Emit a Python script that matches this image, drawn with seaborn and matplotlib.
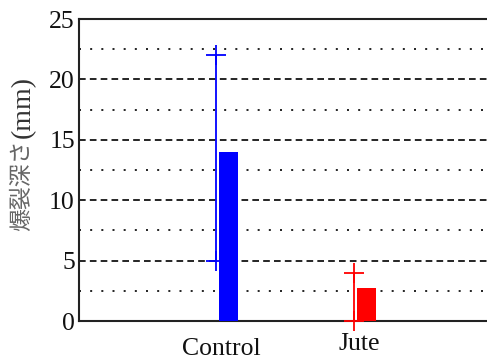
import matplotlib
matplotlib.use("Agg")
import matplotlib.pyplot as plt
import matplotlib.transforms as mtransforms
import seaborn as sns
import pandas as pd
import numpy as np

categories = ["Control", "Jute"]
values = [14.0, 2.75]
upper = [22.0, 4.0]
lower = [5.0, 0.0]
colors = ["#0000ff", "#ff0000"]
yticks = [0, 5, 10, 15, 20, 25]

sns.set_theme(style="white")
plt.rcParams["font.family"] = ["Liberation Serif", "Noto Sans CJK JP"]

fig = plt.figure(figsize=(4.87, 3.62), dpi=100)
ax = fig.add_axes([79 / 487, 41 / 362, 1 - 79 / 487 + 0.01, 302 / 362])

df = pd.DataFrame({"cat": categories, "val": values})
sns.barplot(data=df, x="cat", y="val", hue="cat", palette=colors, order=categories,
            width=0.14, legend=False, ax=ax, saturation=1)

bar_shift = mtransforms.ScaledTranslation(7.5 / 100, 0, fig.dpi_scale_trans)
for p in ax.patches:
    p.set_transform(ax.transData + bar_shift)
    p.set_edgecolor("none")
    p.set_zorder(3)

err_shift = mtransforms.ScaledTranslation(-5.5 / 100, 0, fig.dpi_scale_trans)
for i, c in enumerate(colors):
    ln, = ax.plot([i, i], [lower[i], upper[i]], color=c, lw=1.3,
                  marker="+", markersize=14.5, markeredgewidth=1.3, zorder=4, clip_on=False)
    ln.set_transform(ax.transData + err_shift)

ax.set_xlim(-1.03, 1.96)
ax.set_ylim(0, 25)
ax.set_yticks(yticks)
ax.grid(False)
for y in [5, 10, 15, 20]:
    ax.axhline(y, color="black", lw=1.2, ls=(0, (4, 2.5)), zorder=0)
for y in np.arange(2.5, 25, 5):
    ax.axhline(y, color="black", lw=1.2, ls=(0, (1.2, 5.5)), zorder=0)

ax.tick_params(axis="both", which="both", length=0, labelsize=18.5, colors="#111111", pad=3)
ax.tick_params(axis="x", pad=12)
ax.set_xlabel("")
ax.set_ylabel("")
xt = ax.get_xticklabels()
xt[1].set_transform(xt[1].get_transform() + mtransforms.ScaledTranslation(0, 5 / 100, fig.dpi_scale_trans))

fig.text(22 / 487, 1 - 231 / 362, "爆裂深さ", rotation=90, ha="center", va="bottom",
         fontsize=16.5, color="#666666", family=["Noto Sans CJK JP"])
fig.text(23 / 487, 1 - 138 / 362, "(mm)", rotation=90, ha="center", va="bottom",
         fontsize=20, color="#333333", family=["Liberation Serif"])

for s in ["left", "bottom", "top"]:
    ax.spines[s].set_visible(True)
    ax.spines[s].set_color("#222222")
    ax.spines[s].set_linewidth(1.5)
ax.spines["right"].set_visible(False)

fig.savefig("out.png", dpi=100)
